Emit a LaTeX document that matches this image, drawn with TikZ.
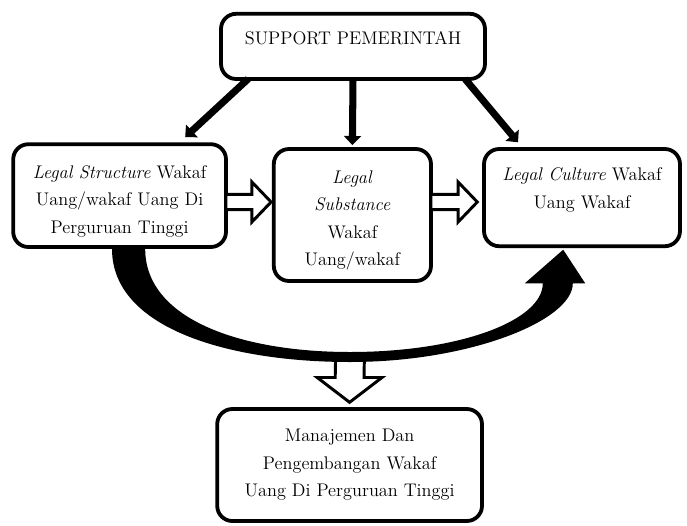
\documentclass[tikz,border=0pt]{standalone}
\usepackage{tikz}
\usetikzlibrary{arrows.meta, calc}

% hollow block arrow pointing right, from #1 to the tip #2
\newcommand{\harrow}[2]{%
  \draw[hollow] ($(#1)+(0,0.19)$) -- ($(#2)+(-0.48,0.19)$) -- ++(0,0.31) -- (#2) -- ++(-0.48,-0.5) -- ++(0,0.31) -- ($(#1)+(0,-0.19)$) -- cycle;}

\begin{document}
\begin{tikzpicture}[
      box/.style={draw, line width=2.7pt, rounded corners=0.38cm, fill=white, align=center, font=\fontsize{13}{19.5}\selectfont},
      push/.style={-{Triangle[length=6.5pt, width=12pt]}, line width=5pt},
      hollow/.style={draw, line width=2.1pt, fill=white, line join=miter}
    ]
      \useasboundingbox (0,0) rectangle (17.175,-13.125);

      % Government support
      \node[box, minimum width=6.6cm, minimum height=1.63cm, text height=9pt, text depth=11pt] (govt) at (8.825,-1.16) {SUPPORT PEMERINTAH};

      % Legal structure
      \node[box, minimum width=5.32cm, minimum height=2.57cm] (struct) at (2.99,-4.89) {\mbox{}\\[-2.5pt]\textit{Legal Structure} Wakaf\\Uang/wakaf Uang Di\\Perguruan Tinggi};

      % Legal substance
      \node[box, minimum width=3.93cm, minimum height=3.3cm] (subst) at (8.81,-5.375) {\mbox{}\\[-2.5pt]\textit{Legal}\\\textit{Substance}\\Wakaf\\Uang/wakaf};

      % Legal culture
      \node[box, minimum width=4.9cm, minimum height=2.43cm] (cult) at (14.55,-4.94) {\textit{Legal Culture} Wakaf\\Uang Wakaf\\[-2mm]\mbox{}};

      % Management
      \node[box, minimum width=6.62cm, minimum height=2.8cm] (manage) at (8.74,-11.625) {Manajemen Dan\\Pengembangan Wakaf\\Uang Di Perguruan Tinggi};

      % Support arrows
      \draw[push] ($(govt.south)+(-2.62,0.05)$) -- ($(struct.north)+(1.64,0.13)$);
      \draw[push] ($(govt.south)+(0,0.05)$) -- ($(subst.north)+(0,0.05)$);
      \draw[push] ($(govt.south)+(2.8,0.05)$) -- ($(cult.north)+(-1.6,0.12)$);

      % Hollow arrows
      \coordinate (a1) at ($(struct.east)+(-0.05,-0.16)$);
      \coordinate (a2) at ($(subst.west |- a1)+(-0.02,0)$);
      \harrow{a1}{a2}
      \coordinate (b1) at ($(subst.east |- a1)+(-0.05,0)$);
      \coordinate (b2) at ($(cult.west |- a1)+(-0.12,0)$);
      \harrow{b1}{b2}

      % Curved arrow and its outlet
      \coordinate (loop) at (8.75,-9.05);
      \coordinate (loopin) at (8.75,-8.8);
      \coordinate (down) at ($(manage.north)+(0,0.12)$);
      \draw[hollow] ($(loop)+(-0.36,0.12)$) -- ($(down)+(-0.36,0.62)$) -- ($(down)+(-0.81,0.62)$) -- (down) -- ($(down)+(0.81,0.62)$) -- ($(down)+(0.36,0.62)$) -- ($(loop)+(0.36,0.12)$) -- cycle;
      \fill ($(struct.south)+(-0.19,0)$) .. controls +(0,-2) and +(-3,0) .. (loop)
        .. controls +(3,0) and +(0,-0.93) .. ($(cult.south)+(-0.23,-0.88)$)
        -- ($(cult.south)+(0.08,-0.88)$) -- ($(cult.south)+(-0.47,-0.04)$)
        -- ($(cult.south)+(-1.43,-0.88)$) -- ($(cult.south)+(-0.98,-0.88)$)
        .. controls +(0,-0.93) and +(2.75,0) .. (loopin)
        .. controls +(-2.75,0) and +(0,-1.75) .. ($(struct.south)+(0.64,0)$) -- cycle;
    \end{tikzpicture}
\end{document}
